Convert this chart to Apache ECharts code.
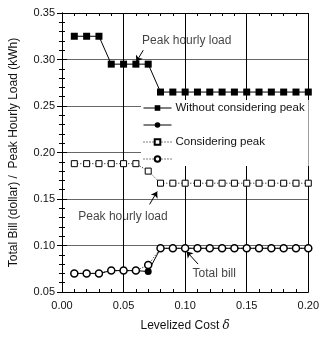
<!DOCTYPE html>
<html>
<head>
    <meta charset="utf-8">
    <title>ECharts</title>
    <script src="https://cdn.jsdelivr.net/npm/echarts@6/dist/echarts.min.js"></script>
    <style>
      body { margin: 0; background: #fff; }
    </style>
</head>
<body>
    <div id="main" style="width: 322px;height:337px;"></div>
    <script type="text/javascript">
      // levelized cost delta
      var cost = [0.01, 0.02, 0.03, 0.04, 0.05, 0.06, 0.07, 0.08, 0.09, 0.10,
                  0.11, 0.12, 0.13, 0.14, 0.15, 0.16, 0.17, 0.18, 0.19, 0.20];
      // peak hourly load (kWh)
      var peakWithout = [0.325, 0.325, 0.325, 0.295, 0.295, 0.295, 0.295, 0.265, 0.265, 0.265,
                         0.265, 0.265, 0.265, 0.265, 0.265, 0.265, 0.265, 0.265, 0.265, 0.265];
      var peakWith = [0.188, 0.188, 0.188, 0.188, 0.188, 0.188, 0.180, 0.167, 0.167, 0.167,
                      0.167, 0.167, 0.167, 0.167, 0.167, 0.167, 0.167, 0.167, 0.167, 0.167];
      // total bill (dollar)
      var billWithout = [0.070, 0.070, 0.070, 0.073, 0.073, 0.073, 0.072, 0.097, 0.097, 0.097,
                         0.097, 0.097, 0.097, 0.097, 0.097, 0.097, 0.097, 0.097, 0.097, 0.097];
      var billWith = [0.070, 0.070, 0.070, 0.073, 0.073, 0.073, 0.079, 0.097, 0.097, 0.097,
                      0.097, 0.097, 0.097, 0.097, 0.097, 0.097, 0.097, 0.097, 0.097, 0.097];
      var seriesNames = ['Without considering peak', ' ', 'Considering peak', '  '];
      // annotations: text, [x, y] of text, arrow tail, arrow tip
      var noteTexts = ['Peak hourly load', 'Peak hourly load', 'Total bill'];
      var notePos = [[0.1013, 0.3198], [0.0495, 0.1314], [0.1236, 0.0693]];
      var arrowFrom = [[0.0660, 0.310], [0.0711, 0.1442], [0.1105, 0.080]];
      var arrowTo = [[0.0603, 0.2975], [0.0773, 0.158], [0.1012, 0.0935]];

      function zip(xs, ys) {
        return xs.map(function (x, i) { return [x, ys[i]]; });
      }

      var font = 'Liberation Sans, Arial, sans-serif';
      var myChart = echarts.init(document.getElementById('main'));

      var axisCommon = {
        type: 'value',
        interval: 0.05,
        axisLine: { show: true, lineStyle: { color: '#000', width: 1 } },
        axisTick: { show: true, inside: true, length: 5, lineStyle: { color: '#000' } },
        minorTick: { show: true, splitNumber: 5, length: 3, lineStyle: { color: '#000' } }
      };

      var noteData = noteTexts.map(function (t, i) {
        return { value: notePos[i], label: { formatter: t } };
      });
      var arrowData = arrowFrom.map(function (p, i) {
        return { coords: [p, arrowTo[i]] };
      });

      option = {
        animation: false,
        textStyle: { fontFamily: font, color: '#111' },
        grid: { left: 57, right: 6, top: 13, bottom: 44 },
        legend: {
          orient: 'vertical',
          left: 141,
          top: 100,
          padding: [2, 4, 1, 2],
          itemGap: 5,
          itemWidth: 28,
          itemHeight: 7,
          backgroundColor: '#fff',
          lineStyle: { width: 1 },
          textStyle: { fontFamily: font, fontSize: 11.5, color: '#111', padding: [0, 0, 0, -1] },
          data: seriesNames
        },
        xAxis: [
          Object.assign({}, axisCommon, {
            min: 0, max: 0.2,
            name: 'Levelized Cost {d|δ}',
            nameLocation: 'middle',
            nameGap: 28,
            nameTextStyle: {
              fontFamily: font, fontSize: 12, color: '#111',
              rich: { d: { fontFamily: 'DejaVu Serif', fontStyle: 'italic', fontSize: 12, color: '#111' } }
            },
            axisLabel: { fontFamily: font, fontSize: 11, color: '#111', margin: 8,
              formatter: function (v) { return v.toFixed(2); } },
            splitLine: { show: true, lineStyle: { color: '#000', width: 1 } }
          }),
          Object.assign({}, axisCommon, {
            min: 0, max: 0.2, position: 'top',
            axisLabel: { show: false },
            splitLine: { show: false }
          })
        ],
        yAxis: [
          Object.assign({}, axisCommon, {
            min: 0.05, max: 0.35,
            name: 'Total Bill (dollar) /  Peak Hourly Load (kWh)',
            nameLocation: 'middle',
            nameGap: 42,
            nameTextStyle: { fontFamily: font, fontSize: 12, color: '#111' },
            axisLabel: { fontFamily: font, fontSize: 11, color: '#111', margin: 7,
              formatter: function (v) { return v.toFixed(2); } },
            splitLine: { show: true, lineStyle: { color: '#666', width: 1 } }
          }),
          Object.assign({}, axisCommon, {
            min: 0.05, max: 0.35, position: 'right',
            axisLabel: { show: false },
            splitLine: { show: false }
          })
        ],
        series: [
          {
            name: seriesNames[0],
            type: 'line',
            data: zip(cost, peakWithout),
            symbol: 'rect',
            symbolSize: 7,
            itemStyle: { color: '#000' },
            lineStyle: { color: '#000', width: 1 }
          },
          {
            name: seriesNames[1],
            type: 'line',
            data: zip(cost, billWithout),
            symbol: 'circle',
            symbolSize: 7,
            itemStyle: { color: '#000' },
            lineStyle: { color: '#000', width: 1 }
          },
          {
            name: seriesNames[2],
            type: 'line',
            data: zip(cost, peakWith),
            symbol: 'rect',
            symbolSize: 6,
            itemStyle: { color: '#fff', borderColor: '#000', borderWidth: 1 },
            lineStyle: { color: '#000', width: 1, type: [1, 2] }
          },
          {
            name: seriesNames[3],
            type: 'line',
            data: zip(cost, billWith),
            symbol: 'circle',
            symbolSize: 7,
            itemStyle: { color: '#fff', borderColor: '#000', borderWidth: 1.5 },
            lineStyle: { color: '#000', width: 1, type: [1, 2] }
          },
          {
            name: 'notes',
            type: 'scatter',
            data: noteData,
            symbolSize: 0,
            silent: true,
            label: { show: true, position: 'inside', fontFamily: font, fontSize: 12, color: '#111' }
          },
          {
            name: 'arrows',
            type: 'lines',
            coordinateSystem: 'cartesian2d',
            silent: true,
            symbol: ['none', 'arrow'],
            symbolSize: 6,
            lineStyle: { color: '#000', width: 1, opacity: 1 },
            data: arrowData
          }
        ]
      };
      myChart.setOption(option);
    </script>
</body>
</html>
